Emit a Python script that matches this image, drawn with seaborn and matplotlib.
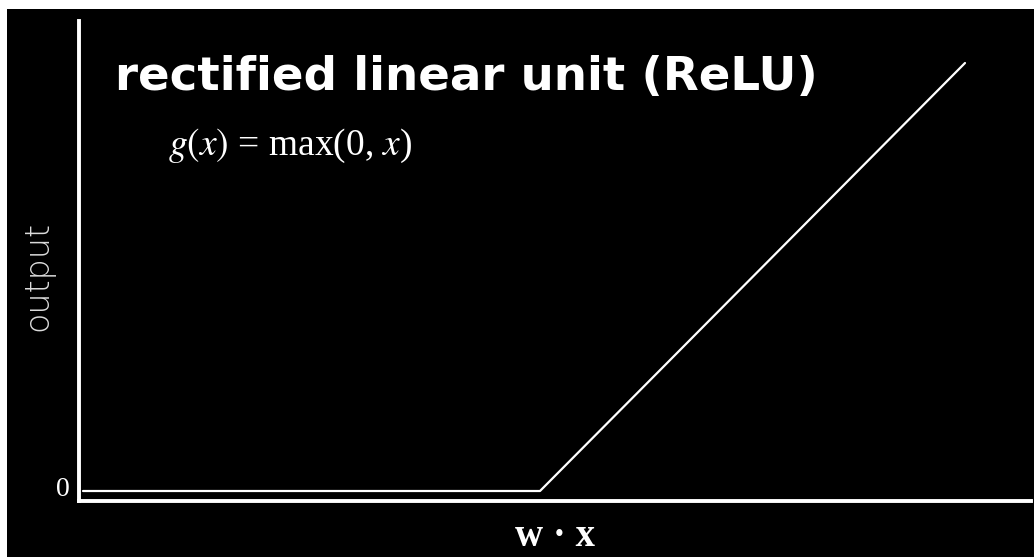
import matplotlib
matplotlib.use("Agg")
import matplotlib.pyplot as plt
from matplotlib.patches import Rectangle
import seaborn as sns
import pandas as pd

# ReLU curve: weighted input and the unit's output
wx = [-4.57, 0.0, 4.25]
output = [0.0, 0.0, 4.28]

title_text = "rectified linear unit (ReLU)"
formula_text = r"$g(x)$ = max(0, $x$)"
x_label = "w · x"
y_label = "output"
zero_label = "0"

sns.set_theme(style="white")
plt.rcParams["mathtext.fontset"] = "stix"

W, H = 1034, 557
fig = plt.figure(figsize=(W / 100, H / 100), dpi=100)
fig.patch.set_facecolor("white")

# black slide background with a thin white margin on the left and top
fig.add_artist(Rectangle((7 / W, 0), 1 - 7 / W, 1 - 9 / H,
                         transform=fig.transFigure, facecolor="black",
                         edgecolor="none", zorder=0))

left_px, bottom_px, right_px, top_px = 79, 500.5, 1031, 21
ax = fig.add_axes([left_px / W, (H - bottom_px) / H,
                   (right_px - left_px) / W, (bottom_px - top_px) / H])
ax.set_facecolor("none")

df = pd.DataFrame({"wx": wx, "output": output})
sns.lineplot(data=df, x="wx", y="output", ax=ax, color="white",
             linewidth=1.6, sort=False, zorder=3)

ax.set_xlim((left_px - 540) / 100, (right_px - 540) / 100)
ax.set_ylim((491 - bottom_px) / 100, (491 - top_px) / 100)

for side in ("top", "right"):
    ax.spines[side].set_visible(False)
for side in ("left", "bottom"):
    ax.spines[side].set_color("white")
    ax.spines[side].set_linewidth(2.8)
    ax.spines[side].set_capstyle("projecting")
ax.set_xticks([])
ax.set_yticks([])
ax.set_xlabel("")
ax.set_ylabel("")

# title and formula
fig.text(115 / W, 1 - 90 / H, title_text, color="white",
         fontsize=33.7, fontfamily="DejaVu Sans", fontweight="bold",
         ha="left", va="baseline")
fig.text(168 / W, 1 - 146 / H, formula_text, color="white",
         fontsize=27, fontfamily="Liberation Serif",
         ha="left", va="center")

# axis labels
fig.text(38 / W, 1 - 276 / H, y_label, color="#dcdcdc", rotation=90,
         fontsize=24, fontfamily="DejaVu Sans", fontweight="light",
         ha="center", va="center")
fig.text(555 / W, 1 - 537 / H, x_label, color="white",
         fontsize=28, fontfamily="Liberation Serif", fontweight="bold",
         ha="center", va="center")
fig.text(63 / W, 1 - 490 / H, zero_label, color="white",
         fontsize=20, fontfamily="Liberation Serif",
         ha="center", va="center")

fig.savefig("out.png", dpi=100, facecolor=fig.get_facecolor())
